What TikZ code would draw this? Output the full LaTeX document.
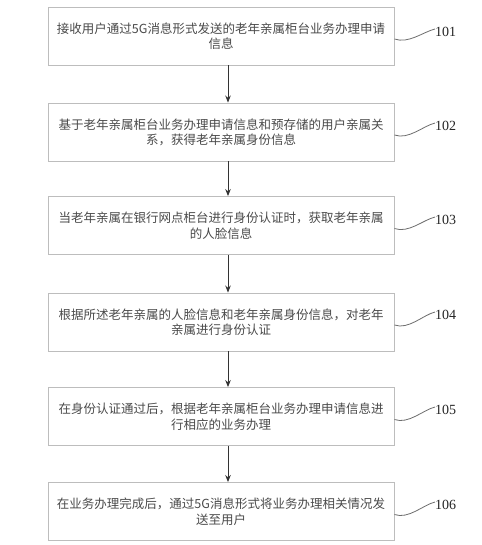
\documentclass[tikz,border=0pt]{standalone}
\usepackage{fontspec}
\setmainfont{Liberation Serif}
\newfontfamily\cjk{Noto Sans CJK SC}
\usetikzlibrary{arrows.meta}
\definecolor{boxline}{HTML}{BDBDBD}
\definecolor{txt}{HTML}{4A4A4A}
\definecolor{sq}{HTML}{6E6E6E}
\newcommand{\twolines}[2]{\raisebox{-5pt}[0pt][0pt]{\begin{tabular}{@{}c@{}}#1\\#2\end{tabular}}}
\tikzset{
  stepbox/.style={draw=boxline, line width=0.9pt, minimum width=346pt, minimum height=58pt,
    inner sep=0pt, text=txt, font=\cjk\fontsize{12.5pt}{15.5pt}\selectfont},
  numlabel/.style={inner sep=0pt, anchor=west, font=\fontsize{14pt}{16pt}\selectfont, text=black!85},
  flow/.style={draw=black!80, line width=0.9pt, -{Stealth[length=7pt,width=5.5pt]}},
  squig/.style={draw=sq, line width=0.8pt}
}
\begin{document}
\begin{tikzpicture}[x=1pt,y=-1pt]
\useasboundingbox (0,0) rectangle (481,545);
\fill[white] (0,0) rectangle (481,545);
\node[stepbox] (b1) at (221,36) {\twolines{接收用户通过5G消息形式发送的老年亲属柜台业务办理申请}{信息}};
\node[stepbox] (b2) at (221,132) {\twolines{基于老年亲属柜台业务办理申请信息和预存储的用户亲属关}{系，获得老年亲属身份信息}};
\node[stepbox] (b3) at (221,225.5) {\twolines{当老年亲属在银行网点柜台进行身份认证时，获取老年亲属}{的人脸信息}};
\node[stepbox] (b4) at (221,322) {\twolines{根据所述老年亲属的人脸信息和老年亲属身份信息，对老年}{亲属进行身份认证}};
\node[stepbox] (b5) at (221,416.5) {\twolines{在身份认证通过后，根据老年亲属柜台业务办理申请信息进}{行相应的业务办理}};
\node[stepbox] (b6) at (221,511.5) {\twolines{在业务办理完成后，通过5G消息形式将业务办理相关情况发}{送至用户}};
\node[numlabel] (l1) at (435,32) {101};
\node[numlabel] (l2) at (435,126) {102};
\node[numlabel] (l3) at (435,220) {103};
\node[numlabel] (l4) at (435,315) {104};
\node[numlabel] (l5) at (435,410) {105};
\node[numlabel] (l6) at (435,505) {106};
\foreach \i in {1,...,6}{
  \draw[squig] ([yshift=-3pt]b\i.east) .. controls +(14pt,-5pt) and +(-12pt,-3pt) .. ([yshift=3pt]l\i.west);
}
\foreach \a/\b in {1/2,2/3,3/4,4/5,5/6}{
  \draw[flow] (b\a.south -| 228,0) -- (b\b.north -| 228,0);
}
\end{tikzpicture}
\end{document}
